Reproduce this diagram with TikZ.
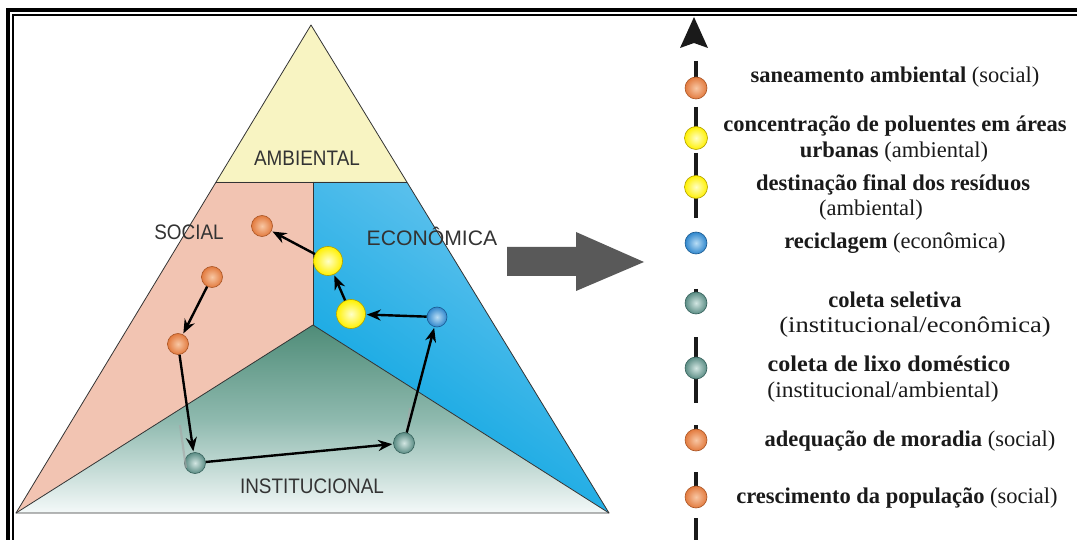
\documentclass[tikz,border=0pt]{standalone}
\usepackage{fontspec}
\setmainfont{Liberation Serif}
\newfontfamily\labfont[FakeStretch=0.9]{Liberation Sans}
\usetikzlibrary{arrows.meta}
\definecolor{ambC}{HTML}{F8F4C2}
\definecolor{socC}{HTML}{F2C4B2}
\definecolor{ecoLt}{HTML}{6CC6EF}
\definecolor{ecoDk}{HTML}{00A2E0}
\definecolor{insDk}{HTML}{4F8C78}
\definecolor{insMd}{HTML}{8EB9AE}
\definecolor{insLt}{HTML}{F4F9F9}
\definecolor{edgeC}{HTML}{333333}
\definecolor{labC}{HTML}{333333}
\definecolor{txtC}{HTML}{1A1A1A}
\definecolor{bigArr}{HTML}{595959}
\definecolor{orBs}{HTML}{E27A3E}
\definecolor{orLt}{HTML}{F8C7A4}
\definecolor{orDk}{HTML}{A85424}
\definecolor{yeBs}{HTML}{FFF000}
\definecolor{yeLt}{HTML}{FFFFC8}
\definecolor{yeDk}{HTML}{B0A000}
\definecolor{blBs}{HTML}{2F86CC}
\definecolor{blLt}{HTML}{B8DDF5}
\definecolor{blDk}{HTML}{1B5A90}
\definecolor{tlBs}{HTML}{5A8C84}
\definecolor{tlLt}{HTML}{D2E6E2}
\definecolor{tlDk}{HTML}{35605A}
\tikzset{
  sph/.style={circle, inner sep=0pt, line width=0.6pt},
  orb/.style={sph, minimum size=#1, draw=orDk, inner color=orLt, outer color=orBs},
  yeb/.style={sph, minimum size=#1, draw=yeDk, inner color=yeLt, outer color=yeBs},
  blb/.style={sph, minimum size=#1, draw=blDk, inner color=blLt, outer color=blBs},
  tlb/.style={sph, minimum size=#1, draw=tlDk, inner color=tlLt, outer color=tlBs},
  region/.style={draw=edgeC, line width=0.8pt, line join=round},
  lab/.style={font=\labfont\fontsize{21}{24}\selectfont, text=labC, inner sep=0pt},
  flow/.style={draw=black, line width=2.4pt, -{Stealth[length=14pt,width=11pt]}, shorten >=1pt},
  ghost/.style={draw=black!35, line width=2.2pt, opacity=0.6},
  axisseg/.style={draw=txtC, line width=4.5pt},
  leg/.style={font=\fontsize{22.5}{25}\selectfont, text=txtC, inner sep=0pt, anchor=base},
}
\begin{document}
\begin{tikzpicture}[x=1pt,y=-1pt]
\useasboundingbox (0,0) rectangle (1077,540);
\fill[white] (0,0) rectangle (1077,540);
% frame (top and left only)
\fill[black] (6,8) rectangle (1077,12);
\fill[black] (12,14) rectangle (1077,16);
\fill[black] (6,8) rectangle (10,540);
\fill[black] (12,14) rectangle (14,540);

% triangle corners
\coordinate (A) at (311,25);
\coordinate (L) at (16,513);
\coordinate (R) at (609,513);
\coordinate (AL) at (216.1,182);
\coordinate (AR) at (406.9,182);
\coordinate (M) at (313,182);
\coordinate (C) at (313,325);

% regions
\fill[ambC] (A) -- (AR) -- (AL) -- cycle;
\fill[socC] (AL) -- (M) -- (C) -- (L) -- cycle;
\shade[top color=ecoLt, bottom color=ecoDk, shading angle=-35] (M) -- (AR) -- (R) -- (C) -- cycle;
\shade[top color=insDk, bottom color=insLt, middle color=insMd] (C) -- (R) -- (L) -- cycle;
\draw[region] (A) -- (R) -- (L) -- cycle;
\draw[region] (AL) -- (AR);
\draw[region] (M) -- (C);
\draw[region] (L) -- (C) -- (R);

% labels
\node[lab] (tamb) at (307,158) {AMBIENTAL};
\node[lab] (tsoc) at (189,232) {SOCIAL};
\node[lab] (teco) at (432,236) {\scalebox{1.12}[1]{ECONÔMICA}};
\node[lab] (tins) at (312,486) {INSTITUCIONAL};

% markers in triangle
\node[orb=21pt] (o1) at (262,226) {};
\node[orb=21pt] (o2) at (212,277) {};
\node[orb=21pt] (o3) at (178,344) {};
\node[tlb=21pt] (t1) at (195,463) {};
\node[tlb=21pt] (t2) at (404,443) {};
\node[blb=20pt] (b1) at (437,317) {};
\node[yeb=29pt] (y1) at (351,314) {};
\node[yeb=29pt] (y2) at (328,261) {};

% ghost traces
\draw[ghost] (180,425) -- (186,468);
\draw[ghost] (410,408) -- (407,430);

% flow arrows
\draw[flow] (o2) -- (o3);
\draw[flow] (o3) -- (t1);
\draw[flow] (t1) -- (t2);
\draw[flow] (t2) -- (b1);
\draw[flow] (b1) -- (y1);
\draw[flow] (y1) -- (y2);
\draw[flow] (y2) -- (o1);

% big arrow
\fill[bigArr] (507,247) -- (576,247) -- (576,232) -- (644,262) -- (576,291) -- (576,276) -- (507,276) -- cycle;

% legend axis
\fill[txtC] (694,17) -- (708,48) -- (694,43) -- (680,48) -- cycle;
\coordinate (s1a) at (696,61);  \coordinate (s1b) at (696,86);
\coordinate (s2a) at (696,107); \coordinate (s2b) at (696,136);
\coordinate (s3a) at (696,153); \coordinate (s3b) at (696,218);
\coordinate (s4a) at (696,289); \coordinate (s4b) at (696,300);
\coordinate (s5a) at (696,337); \coordinate (s5b) at (696,403);
\coordinate (s6a) at (696,425); \coordinate (s6b) at (696,438);
\coordinate (s7a) at (696,472); \coordinate (s7b) at (696,495);
\coordinate (s8a) at (696,518); \coordinate (s8b) at (696,540);
\draw[axisseg] (s1a) -- (s1b);
\draw[axisseg] (s2a) -- (s2b);
\draw[axisseg] (s3a) -- (s3b);
\draw[axisseg] (s4a) -- (s4b);
\draw[axisseg] (s5a) -- (s5b);
\draw[axisseg] (s6a) -- (s6b);
\draw[axisseg] (s7a) -- (s7b);
\draw[axisseg] (s8a) -- (s8b);

\node[orb=22pt] (lo1) at (696,88) {};
\node[yeb=23pt] (ly1) at (696,138) {};
\node[yeb=23pt] (ly2) at (696,187) {};
\node[blb=22pt] (lb1) at (696,243) {};
\node[tlb=22pt] (lt1) at (696,303) {};
\node[tlb=22pt] (lt2) at (696,368) {};
\node[orb=22pt] (lo2) at (696,440) {};
\node[orb=22pt] (lo3) at (696,497) {};

% legend texts
\node[leg] (x1) at (895,83) {\textbf{saneamento ambiental} (social)};
\node[leg] (x2) at (895,132) {\textbf{concentração de poluentes em áreas}};
\node[leg] (x3) at (894,158) {\textbf{urbanas} (ambiental)};
\node[leg] (x4) at (893,191) {\textbf{destinação final dos resíduos}};
\node[leg] (x5) at (871,216) {(ambiental)};
\node[leg] (x6) at (895,249) {\textbf{reciclagem} (econômica)};
\node[leg] (x7) at (895,308) {\textbf{coleta seletiva}};
\node[leg] (x8) at (915,333) {\scalebox{1.18}[1]{(institucional/econômica)}};
\node[leg] (x9) at (889,371) {\scalebox{1.07}[1]{\textbf{coleta de lixo doméstico}}};
\node[leg] (x10) at (883,397) {\scalebox{1.045}[1]{(institucional/ambiental)}};
\node[leg] (x11) at (910,446) {\textbf{adequação de moradia} (social)};
\node[leg] (x12) at (897,503) {\textbf{crescimento da população} (social)};
\end{tikzpicture}
\end{document}
